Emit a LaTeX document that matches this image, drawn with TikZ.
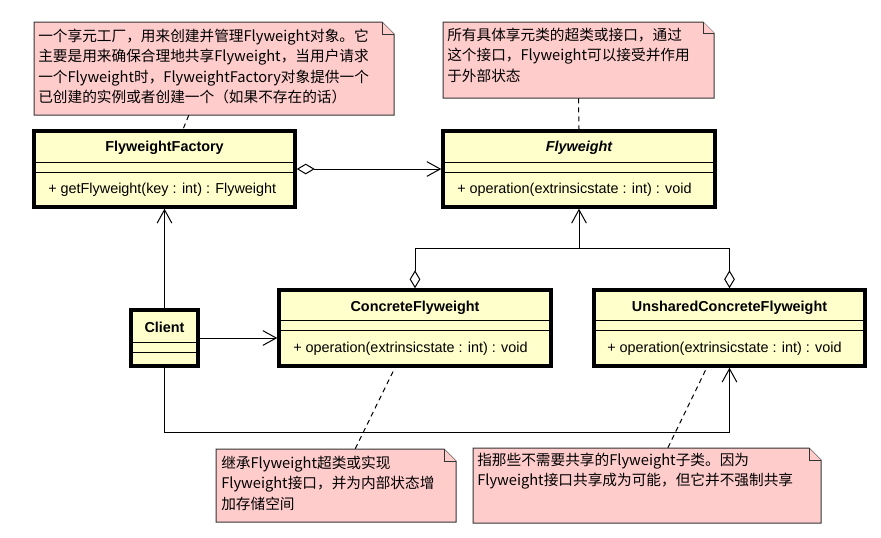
\documentclass[tikz,border=0pt]{standalone}
\usepackage{fontspec}
\setmainfont{Liberation Sans}
\newfontfamily\cjk{Noto Sans CJK SC}
\usepackage{tikz}
\usetikzlibrary{arrows.meta,fit,calc}
\definecolor{classyellow}{RGB}{255,255,204}
\definecolor{notepink}{RGB}{255,204,204}
\tikzstyle{classbox}=[draw=black,line width=2.6pt,fill=classyellow,inner sep=0pt]
\tikzstyle{classline}=[black,line width=0.75pt]
\tikzstyle{classname}=[font=\fontsize{10.8pt}{13pt}\selectfont\bfseries,inner sep=0pt]
\tikzstyle{method}=[font=\fontsize{10.8pt}{13pt}\selectfont,anchor=west,inner sep=0pt]
\tikzstyle{note}=[draw=black!80,line width=0.75pt,fill=notepink]
\tikzstyle{notebound}=[inner sep=0pt]
\tikzstyle{notetext}=[font=\cjk\fontsize{11pt}{15.45pt}\selectfont,align=left,anchor=base west,inner sep=0pt]
\tikzstyle{assoc}=[-{Straight Barb[length=10pt,width=11pt]},black,line width=0.75pt]
\tikzstyle{aggr}=[{Diamond[open,length=13.5pt,width=8pt]}-,black,line width=0.75pt]
\tikzstyle{aggrassoc}=[{Diamond[open,length=13.5pt,width=8pt]}-{Straight Barb[length=10pt,width=11pt]},black,line width=0.75pt]
\tikzstyle{noteline}=[black,line width=0.75pt,dash pattern=on 3.75pt off 3pt]

\begin{document}
\begin{tikzpicture}[x=0.75pt, y=-0.75pt]
	\useasboundingbox (0,0) rectangle (881,537);

	%notes (text placed at the baseline of its last line)
	\draw[note] (34,22) -- (382,22) -- (394,34) -- (394,115) -- (34,115) -- cycle;
	\draw[note] (382,22) -- (382,34) -- (394,34);
	\node[notebound, fit={(34,22) (394,115)}] (note1) {};
	\node[notetext] (note1 text) at (38,102.8) {一个享元工厂，用来创建并管理Flyweight对象。它\\主要是用来确保合理地共享Flyweight，当用户请求\\一个Flyweight时，FlyweightFactory对象提供一个\\已创建的实例或者创建一个（如果不存在的话）};

	\draw[note] (443,22) -- (703,22) -- (714,33) -- (714,98) -- (443,98) -- cycle;
	\draw[note] (703,22) -- (703,33) -- (714,33);
	\node[notebound, fit={(443,22) (714,98)}] (note2) {};
	\node[notetext] (note2 text) at (447,81.2) {所有具体享元类的超类或接口，通过\\这个接口，Flyweight可以接受并作用\\于外部状态};

	\draw[note] (216,449) -- (444,449) -- (456,461) -- (456,522) -- (216,522) -- cycle;
	\draw[note] (444,449) -- (444,461) -- (456,461);
	\node[notebound, fit={(216,449) (456,522)}] (note3) {};
	\node[notetext] (note3 text) at (221,509.2) {继承Flyweight超类或实现\\Flyweight接口，并为内部状态增\\加存储空间};

	\draw[note] (473,448) -- (809,448) -- (821,460) -- (821,523) -- (473,523) -- cycle;
	\draw[note] (809,448) -- (809,460) -- (821,460);
	\node[notebound, fit={(473,448) (821,523)}] (note4) {};
	\node[notetext] (note4 text) at (477,485.6) {指那些不需要共享的Flyweight子类。因为\\Flyweight接口共享成为可能，但它并不强制共享};

	%classes
	\node[classbox, fit={(34,131) (295,207)}] (ff) {};
	\draw[classline] (34,162) -- (295,162) (34,172) -- (295,172);
	\node[classname] (ff name) at (164.5,148) {FlyweightFactory};
	\node[method] (ff op) at (48,190) {+ getFlyweight(key : int) : Flyweight};

	\node[classbox, fit={(443,131) (715,207)}] (fw) {};
	\draw[classline] (443,162) -- (715,162) (443,172) -- (715,172);
	\node[classname, font=\fontsize{10.8pt}{13pt}\selectfont\bfseries\itshape] (fw name) at (579,148) {Flyweight};
	\node[method] (fw op) at (457,190) {+ operation(extrinsicstate : int) : void};

	\node[classbox, fit={(131,310) (198,366)}] (client) {};
	\draw[classline] (131,342) -- (198,342) (131,352) -- (198,352);
	\node[classname] (client name) at (164.5,327) {Client};

	\node[classbox, fit={(279,290) (551,366)}] (cf) {};
	\draw[classline] (279,320) -- (551,320) (279,330) -- (551,330);
	\node[classname] (cf name) at (415,308) {ConcreteFlyweight};
	\node[method] (cf op) at (293,349) {+ operation(extrinsicstate : int) : void};

	\node[classbox, fit={(594,290) (865,366)}] (ucf) {};
	\draw[classline] (594,320) -- (865,320) (594,330) -- (865,330);
	\node[classname] (ucf name) at (729.5,308) {UnsharedConcreteFlyweight};
	\node[method] (ucf op) at (607,349) {+ operation(extrinsicstate : int) : void};

	%connectors
	\draw[aggrassoc] (ff.east) -- (fw.west);
	\draw[assoc] (client.north) -- (client.north |- ff.south);
	\draw[assoc] (client.east) -- (client.east -| cf.west);
	\draw[assoc] (client.south) -- (client.south |- 0,432) -| (ucf.south);
	\coordinate (join) at (fw.south |- 0,248);
	\draw[aggr] (cf.north) |- (join);
	\draw[aggr] (ucf.north) |- (join);
	\draw[assoc] (join) -- (fw.south);

	%note links
	\draw[noteline] ($(note1.south west)!0.43!(note1.south east)$) -- ($(ff.north west)!0.57!(ff.north east)$);
	\draw[noteline] (note2.south) -- (fw.north);
	\draw[noteline] ($(note3.north west)!0.58!(note3.north east)$) -- ($(cf.south west)!0.427!(cf.south east)$);
	\draw[noteline] ($(note4.north west)!0.56!(note4.north east)$) -- ($(ucf.south west)!0.417!(ucf.south east)$);
\end{tikzpicture}
\end{document}
